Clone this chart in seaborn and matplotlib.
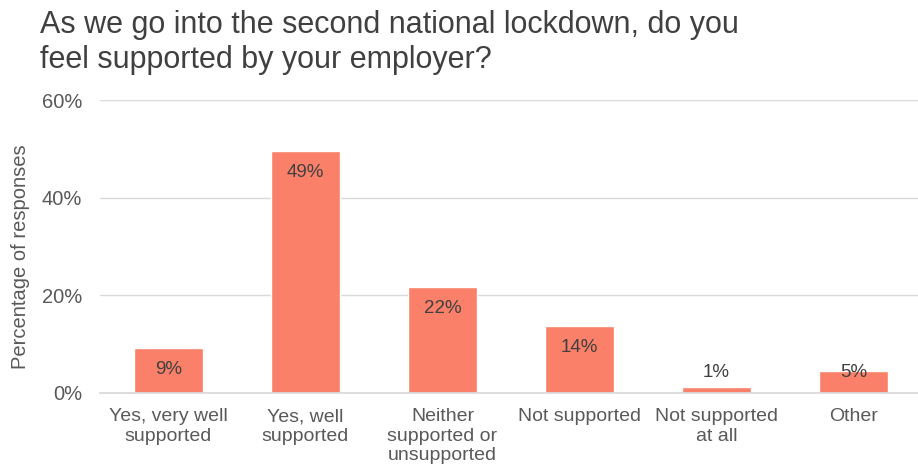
import matplotlib
matplotlib.use("Agg")
import matplotlib.pyplot as plt
import seaborn as sns
import pandas as pd

categories = ["Yes, very well\nsupported", "Yes, well\nsupported", "Neither\nsupported or\nunsupported",
              "Not supported", "Not supported\nat all", "Other"]
values = [9.2, 49.5, 21.7, 13.7, 1.2, 4.5]
labels = ["9%", "49%", "22%", "14%", "1%", "5%"]
yticks = [0, 20, 40, 60]
ytick_labels = ["0%", "20%", "40%", "60%"]

sns.set_theme(style="white")
plt.rcParams['font.family'] = ['Liberation Sans', 'DejaVu Sans']

df = pd.DataFrame({"cat": categories, "val": values})
fig = plt.figure(figsize=(9.18, 4.74), dpi=100)
ax = fig.add_axes([100/918, (474-393)/474, 818/918, 293/474])

sns.barplot(data=df, x="cat", y="val", color="#FA8069", saturation=1, width=0.5, ax=ax)

ax.set_ylim(0, 60)
ax.set_xlim(-0.5, 5.47)
ax.set_yticks(yticks)
ax.set_yticklabels(ytick_labels, fontsize=14.5, color="#595959")
ax.tick_params(axis="x", labelsize=14, labelcolor="#595959", length=0, pad=11)
for t in ax.get_xticklabels():
    t.set_linespacing(1.2)
ax.tick_params(axis="y", length=0, pad=13)
ax.set_xlabel("")
ax.set_ylabel("Percentage of responses", fontsize=14.5, color="#595959")
ax.yaxis.set_label_coords(-0.086, 0.464)
ax.yaxis.grid(True, color="#D9D9D9", linewidth=1)
ax.set_axisbelow(True)
for s in ["top", "right", "left"]:
    ax.spines[s].set_visible(False)
ax.spines["bottom"].set_color("#D9D9D9")

for i, (v, l) in enumerate(zip(values, labels)):
    ax.text(i, max(v - 4.4, 4.3), l, ha="center", va="center", fontsize=13.5, color="#404040")

fig.text(40/918, 1 - 10/474, "As we go into the second national lockdown, do you\nfeel supported by your employer?",
         ha="left", va="top", fontsize=22, color="#404040", linespacing=1.2)

fig.savefig("out.png", dpi=100)
